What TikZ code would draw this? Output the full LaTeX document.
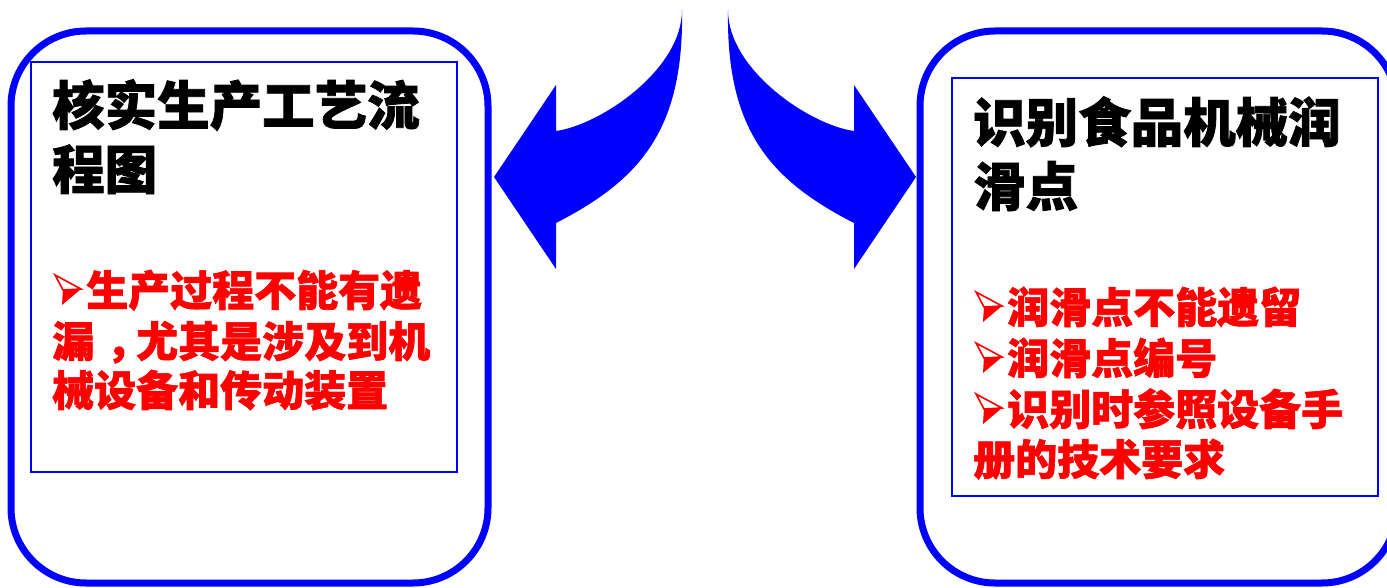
\documentclass[tikz,border=0pt]{standalone}
\usepackage{fontspec}
\newfontfamily\cjk{Noto Sans CJK SC}[BoldFeatures={FakeBold=1.5}]
\definecolor{boxblue}{RGB}{0,0,255}
\definecolor{txtred}{RGB}{255,0,0}
\newcommand\midcomma{\makebox[42pt][l]{\hspace{12pt}，}}
\begin{document}
\begin{tikzpicture}[x=1pt,y=-1pt,
 outerbox/.style={draw=boxblue,line width=7pt,rounded corners=75pt,minimum width=477pt,minimum height=552pt,inner sep=0pt},
 innerbox/.style={draw=boxblue,line width=2pt,inner sep=0pt},
 title/.style={anchor=base west,inner sep=0pt,font=\cjk\bfseries\fontsize{52.5}{60}\selectfont,text=black},
 item/.style={anchor=base west,inner sep=0pt,font=\cjk\bfseries\fontsize{42}{48}\selectfont,text=txtred},
 bigarrow/.style={fill=boxblue},
 itembul/.pic={
   \filldraw[draw=txtred,fill=white,line width=1.6pt,line join=miter] (3,-31) -- (29,-17) -- (11,-16) -- cycle;
   \fill[txtred] (11,-16.8) -- (29,-17) -- (10,-1) -- cycle;
 }]
\useasboundingbox (0,0) rectangle (1387,588);
\clip (0,0) rectangle (1387,588);
% boxes
\node[outerbox] (lbox) at (249.5,307) {};
\node[outerbox] (rbox) at (1158.5,307) {};
\node[innerbox,minimum width=426pt,minimum height=410pt] (lin) at (244,267) {};
\node[innerbox,minimum width=426pt,minimum height=418pt] (rin) at (1165,287) {};
% left texts
\node[title] (lt1) at (52,125) {核实生产工艺流};
\node[title] (lt2) at (52,189) {程图};
\pic at (52,306) {itembul};
\node[item] (li1) at (86,306) {生产过程不能有遗};
\node[item] (li2) at (52,357) {漏\midcomma 尤其是涉及到机};
\node[item] (li3) at (52,406) {械设备和传动装置};
% right texts
\node[title] (rt1) at (973,142) {识别食品机械润};
\node[title] (rt2) at (973,206) {滑点};
\pic at (973,323) {itembul};
\node[item] (ri1) at (1007,323) {润滑点不能遗留};
\pic at (973,374) {itembul};
\node[item] (ri2) at (1007,374) {润滑点编号};
\pic at (973,425) {itembul};
\node[item] (ri3) at (1007,425) {识别时参照设备手};
\node[item] (ri4) at (973,475) {册的技术要求};
% curved arrows
\fill[bigarrow] (682,10) .. controls (684,130) and (640,180) .. (556,223)
  -- (556,269) -- (494,177) -- (556,85) -- (556,131)
  .. controls (600,125) and (682,70) .. (682,10) -- cycle;
\begin{scope}[shift={(1410,0)},xscale=-1]
\fill[bigarrow] (682,10) .. controls (684,130) and (640,180) .. (556,223)
  -- (556,269) -- (494,177) -- (556,85) -- (556,131)
  .. controls (600,125) and (682,70) .. (682,10) -- cycle;
\end{scope}
\end{tikzpicture}
\end{document}
